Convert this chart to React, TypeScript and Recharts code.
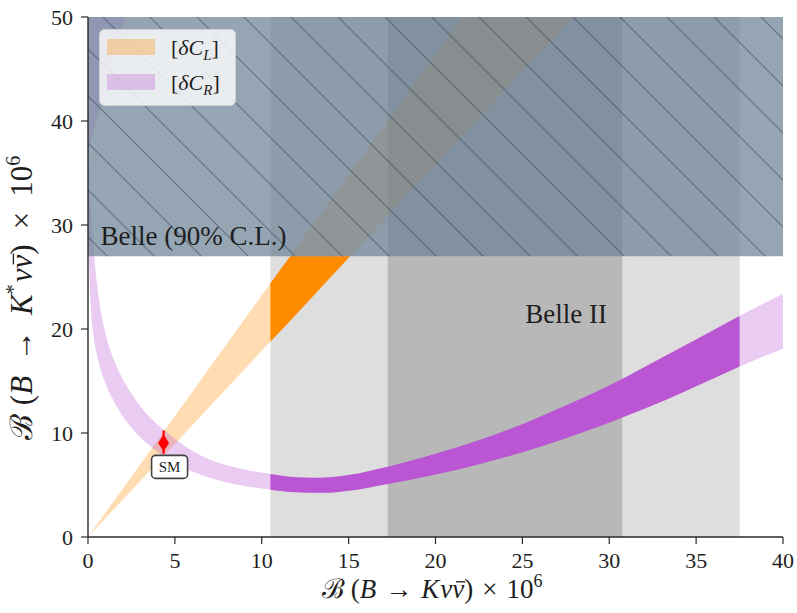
import React, { useLayoutEffect, useRef, useState } from 'react';
import { ComposedChart, Area, XAxis, YAxis, Scatter, ErrorBar, Legend, Label } from 'recharts';

// ---- axes ----
const xTicks = [0, 5, 10, 15, 20, 25, 30, 35, 40];
const yTicks = [0, 10, 20, 30, 40, 50];

// ---- Belle II projected region (x ranges) ----
const belle2Outer = [10.5, 37.5];
const belle2Inner = [17.25, 30.75];
// ---- Belle 90% C.L. excluded region (y range) ----
const belleY = [27, 50];

// ---- [δC_L] band (light: full, dark: allowed part) ----
const cLX = [0, 10.5, 11.64, 15.08, 21.55, 27.93];
const cLLow = [0, 18.8, 20.8, 27, 38.6, 50];
const cLHigh = [0, 24.4, 27, 35, 50, 50];
const cLDarkX = [10.5, 11.64, 15.08];
const cLDarkLow = [18.8, 20.8, 27];
const cLDarkHigh = [24.4, 27, 27];

// ---- [δC_R] band ----
const cRX = [0, 0.05, 0.15, 0.3, 0.5, 0.75, 1, 1.5, 2, 2.5, 3, 3.5, 4, 4.5, 5, 6, 7, 8, 9, 10.5, 12, 13.5, 15, 17.25, 20, 22.5, 25, 27.5, 30.75, 33, 35, 37.5, 40];
const cRLow = [30, 27, 22.5, 19.6, 17.6, 16.0, 14.8, 13.0, 11.6, 10.5, 9.6, 8.85, 8.2, 7.6, 7.1, 6.3, 5.7, 5.25, 4.9, 4.55, 4.3, 4.25, 4.45, 5.1, 6.0, 7.0, 8.15, 9.5, 11.5, 13.0, 14.5, 16.4, 18.1];
const cRHigh = [37, 34.5, 31.6, 28.2, 24.6, 21.6, 19.6, 17.0, 15.2, 13.8, 12.6, 11.6, 10.8, 10.1, 9.45, 8.3, 7.45, 6.9, 6.5, 6.05, 5.75, 5.7, 5.95, 6.75, 8.0, 9.3, 10.85, 12.65, 15.2, 17.2, 19.0, 21.25, 23.4];
// second branch of the δC_R band (upper-left)
const cRWedgeX = [0, 2.16];
const cRWedgeLow = [37, 50];
const cRWedgeHigh = [50, 50];

// ---- SM point ----
const smPoint = { x: 4.35, y: 9.05, errLow: 1.05, errHigh: 1.2 };

// ---- text annotations ----
const annotations = [
  { x: 0.72, y: 28.05, t: 'Belle (90% C.L.)' },
  { x: 25.17, y: 20.55, t: 'Belle II' },
];

const FONT = '"Liberation Serif", "DejaVu Serif", serif';
const TXT = '#1e1e1e';

const band = (xs: number[], lo: number[], hi: number[]) => xs.map((x, i) => ({ x, r: [lo[i], hi[i]] }));
const rect = (xr: number[], yr: number[]) => [
  { x: xr[0], r: [yr[0], yr[1]] },
  { x: xr[1], r: [yr[0], yr[1]] },
];

const grayOuter = rect(belle2Outer, [0, 50]);
const grayInner = rect(belle2Inner, [0, 50]);
const belleBox = rect([0, 40], belleY);
const cLLight = band(cLX, cLLow, cLHigh);
const cLDark = band(cLDarkX, cLDarkLow, cLDarkHigh);
const cRLight = band(cRX, cRLow, cRHigh);
const cRWedge = band(cRWedgeX, cRWedgeLow, cRWedgeHigh);
const cRDark = cRLight.filter((d) => d.x >= belle2Outer[0] && d.x <= belle2Outer[1]);
const smData = [{ x: smPoint.x, y: smPoint.y, err: [smPoint.errLow, smPoint.errHigh] }];

const SmShape = (p: any) => {
  const { cx, cy } = p;
  if (cx == null || cy == null) return null;
  return (
    <g>
      <path d={`M${cx},${cy - 8.5}L${cx + 5.5},${cy}L${cx},${cy + 8.5}L${cx - 5.5},${cy}Z`} fill="#ff0000" />
      <rect x={cx - 12} y={cy + 12.5} width={36} height={23} rx={4} fill="#ffffff" stroke="#444" strokeWidth={1.6} />
      <text x={cx + 6} y={cy + 29} textAnchor="middle" fontSize={15} fontFamily={FONT} fill={TXT}>SM</text>
    </g>
  );
};

const TextShape = (p: any) => {
  const { cx, cy, payload } = p;
  if (cx == null || cy == null) return null;
  return (
    <text x={cx} y={cy} fontSize={27} fontFamily={FONT} fill={TXT}>{payload.t}</text>
  );
};

// Axis title: ℬ(B → K(*)νν̄) × 10^6 ; the bar over ν̄ is measured after layout
function MathTitle({ x, y, fs, rotate, star, gap }: { x: number; y: number; fs: number; rotate: boolean; star: boolean; gap: number }) {
  const ref = useRef<any>(null);
  const [bar, setBar] = useState<number[] | null>(null);
  useLayoutEffect(() => {
    try {
      const el = ref.current;
      if (el && el.getBBox) {
        const b = el.getBBox();
        if (b && b.width > 0) setBar([b.x, b.width]);
      }
    } catch (e) {
      /* ignore */
    }
  }, [x, y, fs]);
  const sup = Math.round(fs * 0.65);
  return (
    <g transform={rotate ? `rotate(-90, ${x}, ${y})` : undefined}>
      <text x={x} y={y} textAnchor="middle" fontSize={fs} fontFamily={FONT} fill={TXT}>
        <tspan>ℬ</tspan>
        <tspan dx={gap * 0.6}>(</tspan>
        <tspan fontStyle="italic">B</tspan>
        <tspan dx={gap}>→</tspan>
        <tspan dx={gap} fontStyle="italic">K</tspan>
        {star ? <tspan dy={-fs * 0.38} fontSize={sup}>*</tspan> : null}
        <tspan dx={star ? 2 : 1} dy={star ? fs * 0.38 : 0} fontStyle="italic">ν</tspan>
        <tspan ref={ref} fontStyle="italic">ν</tspan>
        <tspan>)</tspan>
        <tspan dx={gap}>×</tspan>
        <tspan dx={gap}>10</tspan>
        <tspan dy={-fs * 0.4} fontSize={sup}>6</tspan>
      </text>
      {bar ? (
        <line
          x1={bar[0] + bar[1] * 0.22 + 1}
          x2={bar[0] + bar[1] + 1}
          y1={y - fs * 0.6}
          y2={y - fs * 0.6}
          stroke={TXT}
          strokeWidth={1.3}
        />
      ) : null}
    </g>
  );
}

const XTitle = (p: any) => {
  const vb = p.viewBox || { x: 88, y: 537, width: 695, height: 76 };
  const cx = vb.x + vb.width / 2 - 3;
  return <MathTitle x={cx} y={598} fs={27} rotate={false} star={false} gap={9} />;
};

const YTitle = () => <MathTitle x={32} y={298} fs={31} rotate star gap={15} />;

const LegendBox = () => (
  <svg width={137} height={77} style={{ display: 'block' }}>
    <rect x={0.5} y={0.5} width={136} height={76} rx={5} fill="#ffffff" fillOpacity={0.8} stroke="#d0d0d0" />
    <rect x={8} y={10} width={48} height={16} fill="#ff8c00" fillOpacity={0.3} />
    <rect x={8} y={45} width={48} height={16} fill="#ba55d3" fillOpacity={0.3} />
    <text x={72} y={26} fontSize={22} fontFamily={FONT} fill={TXT}>
      <tspan>[</tspan>
      <tspan fontStyle="italic">δC</tspan>
      <tspan dy={5} fontSize={15} fontStyle="italic">L</tspan>
      <tspan dy={-5}>]</tspan>
    </text>
    <text x={72} y={61} fontSize={22} fontFamily={FONT} fill={TXT}>
      <tspan>[</tspan>
      <tspan fontStyle="italic">δC</tspan>
      <tspan dy={5} fontSize={15} fontStyle="italic">R</tspan>
      <tspan dy={-5}>]</tspan>
    </text>
  </svg>
);

const areaCommon = {
  dataKey: 'r',
  stroke: 'none',
  dot: false,
  activeDot: false,
  isAnimationActive: false,
  legendType: 'none' as const,
};

const tickStyle = { fill: TXT, fontSize: 22, fontFamily: FONT };

export default function App() {
  return (
    <div style={{ position: 'absolute', left: 0, top: 0, width: 797, height: 613, background: '#ffffff' }}>
      <ComposedChart width={797} height={613} margin={{ top: 17, right: 14, bottom: 0, left: 0 }}>
        <defs>
          <pattern id="belleHatch" patternUnits="userSpaceOnUse" width={47} height={47}>
            <path d="M38,-1 L48,9 M-1,7 L40,48" stroke="#2c3c4c" strokeOpacity={0.5} strokeWidth={1.1} fill="none" />
          </pattern>
        </defs>
        <XAxis
          dataKey="x"
          type="number"
          domain={[0, 40]}
          ticks={xTicks}
          allowDataOverflow
          height={76}
          tickSize={7}
          tickMargin={8}
          tick={tickStyle}
          stroke="#2a2a2a"
          axisLine={{ stroke: '#2a2a2a', strokeWidth: 1.4 }}
          tickLine={{ stroke: '#2a2a2a', strokeWidth: 1.2 }}
        >
          <Label content={XTitle} />
        </XAxis>
        <XAxis xAxisId="top" orientation="top" type="number" domain={[0, 40]} height={0} tick={false} tickLine={false} axisLine={{ stroke: '#2a2a2a', strokeWidth: 1.4 }} />
        <YAxis
          type="number"
          domain={[0, 50]}
          ticks={yTicks}
          allowDataOverflow
          width={88}
          tickSize={7}
          tickMargin={8}
          tick={tickStyle}
          stroke="#2a2a2a"
          axisLine={{ stroke: '#2a2a2a', strokeWidth: 1.4 }}
          tickLine={{ stroke: '#2a2a2a', strokeWidth: 1.2 }}
        >
          <Label content={YTitle} />
        </YAxis>
        <YAxis yAxisId="right" orientation="right" type="number" domain={[0, 50]} width={0} tick={false} tickLine={false} axisLine={{ stroke: '#2a2a2a', strokeWidth: 1.4 }} />

        <Area {...areaCommon} data={grayOuter} type="linear" fill="#dedede" fillOpacity={1} />
        <Area {...areaCommon} data={grayInner} type="linear" fill="#b8b8b8" fillOpacity={1} />
        <Area {...areaCommon} data={cLLight} type="linear" fill="#ff8c00" fillOpacity={0.3} />
        <Area {...areaCommon} data={cRLight} type="monotone" fill="#ba55d3" fillOpacity={0.3} />
        <Area {...areaCommon} data={cRWedge} type="linear" fill="#ba55d3" fillOpacity={0.3} />
        <Area {...areaCommon} data={cLDark} type="linear" fill="#ff8c00" fillOpacity={1} />
        <Area {...areaCommon} data={cRDark} type="monotone" fill="#ba55d3" fillOpacity={1} />
        <Area {...areaCommon} data={belleBox} type="linear" fill="#6e8296" fillOpacity={0.72} />
        <Area {...areaCommon} data={belleBox} type="linear" fill="url(#belleHatch)" fillOpacity={1} />

        <Scatter data={annotations} dataKey="y" shape={TextShape} isAnimationActive={false} legendType="none" />
        <Scatter data={smData} dataKey="y" shape={SmShape} isAnimationActive={false} legendType="none">
          <ErrorBar dataKey="err" direction="y" width={0} stroke="#ff0000" strokeWidth={2.2} />
        </Scatter>

        <Legend
          content={LegendBox}
          layout="vertical"
          align="center"
          verticalAlign="middle"
          wrapperStyle={{ position: 'absolute', left: 99, top: 29, width: 137, height: 77 }}
        />
      </ComposedChart>
    </div>
  );
}
